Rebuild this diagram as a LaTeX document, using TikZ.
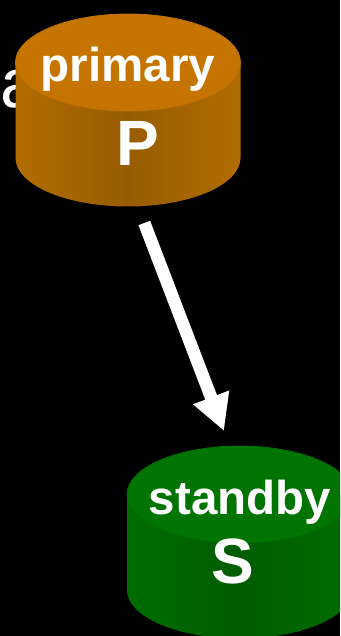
\documentclass[tikz,border=0pt]{standalone}
\usepackage{fontspec}
\setmainfont{Liberation Sans}
\usetikzlibrary{arrows.meta}
\definecolor{orgtop}{RGB}{198,116,0}
\definecolor{orgrim}{RGB}{190,112,0}
\definecolor{orgedge}{RGB}{208,128,0}
\definecolor{orgmid}{RGB}{152,92,0}
\definecolor{grntop}{RGB}{0,116,0}
\definecolor{grnrim}{RGB}{0,108,0}
\definecolor{grnedge}{RGB}{0,128,0}
\definecolor{grnmid}{RGB}{0,92,0}
\pgfdeclarehorizontalshading{orgside}{100bp}{color(0bp)=(orgedge); color(8bp)=(orgedge!80!orgmid); color(28bp)=(orgedge!40!orgmid); color(50bp)=(orgmid); color(72bp)=(orgedge!40!orgmid); color(92bp)=(orgedge!80!orgmid); color(100bp)=(orgedge)}
\pgfdeclarehorizontalshading{grnside}{100bp}{color(0bp)=(grnedge); color(8bp)=(grnedge!80!grnmid); color(28bp)=(grnedge!40!grnmid); color(50bp)=(grnmid); color(72bp)=(grnedge!40!grnmid); color(92bp)=(grnedge!80!grnmid); color(100bp)=(grnedge)}
\tikzset{
  sidewall/.style={shade,shading=#1},
  lidtop/.style={line width=0.8pt},
  bigword/.style={text=white,font=\fontsize{47.5}{48}\selectfont\bfseries,inner sep=0pt,anchor=base},
  bigletter/.style={text=white,font=\fontsize{64}{64}\selectfont\bfseries,inner sep=0pt,anchor=base},
  flowarrow/.style={white,line width=12.5pt,-{Triangle[length=36pt,width=36pt]}},
}
\begin{document}
\begin{tikzpicture}[x=1pt,y=-1pt]
\useasboundingbox (0,0) rectangle (340,636);
\clip (0,0) rectangle (340,636);
\fill[black] (0,0) rectangle (340,636);
\node[text=white,font=\fontsize{70}{70}\selectfont,inner sep=0pt,anchor=base west] (lefta) at (0,107.5) {a};
% primary
\path[sidewall=orgside] (15.5,62.5) -- (15.5,158) arc[start angle=180,end angle=360,x radius=112.5,y radius=-48.5] -- (240.5,62.5) -- cycle;
\filldraw[lidtop,fill=orgtop,draw=orgrim] (128,62.5) ellipse[x radius=112.5,y radius=48.5];
\node[bigword] (primary) at (128,82) {primary};
\node[bigletter] (P) at (137.5,166) {P};
% standby
\path[sidewall=grnside] (127,494.5) -- (127,590) arc[start angle=180,end angle=360,x radius=112.5,y radius=-48.5] -- (352,494.5) -- cycle;
\filldraw[lidtop,fill=grntop,draw=grnrim] (239.5,494.5) ellipse[x radius=112.5,y radius=48.5];
\node[bigword] (standby) at (240,514) {standby};
\node[bigletter] (S) at (233,583) {S};
% connector
\coordinate (from) at (144.3,223);
\coordinate (to) at (224,431);
\draw[flowarrow] (from) -- (to);
\end{tikzpicture}
\end{document}
